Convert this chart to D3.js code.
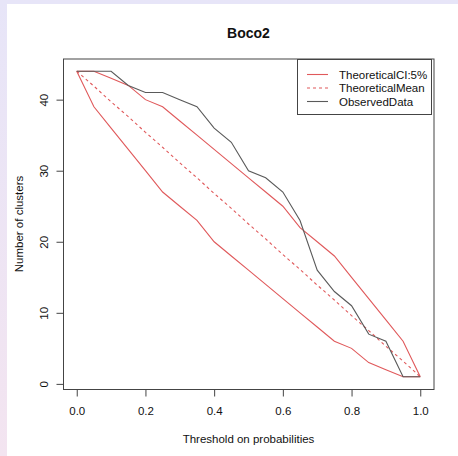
<!DOCTYPE html>
<html>
<head>
<meta charset="utf-8">
<script src="https://cdn.jsdelivr.net/npm/d3@7/dist/d3.min.js"></script>
<style>
  html, body { margin: 0; padding: 0; }
  body { width: 458px; height: 456px; overflow: hidden; background: linear-gradient(to bottom, #e7e5f8 0%, #f3e4f0 100%); }
  svg { display: block; }
  text { font-family: "Liberation Sans", Arial, Helvetica, sans-serif; fill: #111; }
</style>
</head>
<body>
<script>
const title = "Boco2";
const thresholds = [0, 0.05, 0.1, 0.15, 0.2, 0.25, 0.3, 0.35, 0.4, 0.45, 0.5, 0.55, 0.6, 0.65, 0.7, 0.75, 0.8, 0.85, 0.9, 0.95, 1.0];
const ciUpper = [44, 44, 43, 42, 40, 39, 37, 35, 33, 31, 29, 27, 25, 22, 20, 18, 15, 12, 9, 6, 1];
const ciLower = [44, 39, 36, 33, 30, 27, 25, 23, 20, 18, 16, 14, 12, 10, 8, 6, 5, 3, 2, 1, 1];
const theoMean = [44, 41.9, 39.7, 37.6, 35.4, 33.3, 31.1, 29, 26.8, 24.7, 22.5, 20.4, 18.2, 16.1, 13.9, 11.8, 9.6, 7.5, 5.3, 3.2, 1];
const observed = [44, 44, 44, 42, 41, 41, 40, 39, 36, 34, 30, 29, 27, 23, 16, 13, 11, 7, 6, 1, 1];
const xTicks = [0, 0.2, 0.4, 0.6, 0.8, 1.0];
const yTicks = [0, 10, 20, 30, 40];
const legendLabels = ["TheoreticalCI:5%", "TheoreticalMean", "ObservedData"];

const W = 458, H = 456;
const box = { left: 63, right: 434, top: 59, bottom: 389 };
const red = "#e0595b", gray = "#5a5a5a";

const svg = d3.select("body").append("svg").attr("width", W).attr("height", H);
svg.append("rect").attr("x", 7).attr("y", 4).attr("width", W - 7).attr("height", H - 4).attr("fill", "#fff");

// R-style 4% padding on data range
const xMin = d3.min(thresholds), xMax = d3.max(thresholds);
const allY = ciUpper.concat(ciLower, theoMean, observed);
const yMin = d3.min(allY), yMax = d3.max(allY);
const xs = d3.scaleLinear().domain([xMin - 0.04 * (xMax - xMin), xMax + 0.04 * (xMax - xMin)]).range([box.left, box.right]);
const ys = d3.scaleLinear().domain([yMin - 0.04 * (yMax - yMin), yMax + 0.04 * (yMax - yMin)]).range([box.bottom, box.top]);

const line = d3.line().x((d, i) => xs(thresholds[i])).y(d => ys(d));

const g = svg.append("g");
g.append("path").datum(ciUpper).attr("d", line).attr("fill", "none").attr("stroke", red).attr("stroke-width", 1.1);
g.append("path").datum(ciLower).attr("d", line).attr("fill", "none").attr("stroke", red).attr("stroke-width", 1.1);
g.append("path").datum(theoMean).attr("d", line).attr("fill", "none").attr("stroke", red).attr("stroke-width", 1.1).attr("stroke-dasharray", "3,3");
g.append("path").datum(observed).attr("d", line).attr("fill", "none").attr("stroke", gray).attr("stroke-width", 1.1);

// Box
svg.append("rect").attr("x", box.left + 0.5).attr("y", box.top).attr("width", box.right - box.left - 0.5).attr("height", box.bottom - box.top + 0.5)
  .attr("fill", "none").attr("stroke", "#444").attr("stroke-width", 1);

// Axes
const xAxis = d3.axisBottom(xs).tickValues(xTicks).tickFormat(d3.format(".1f")).tickSize(7).tickPadding(10);
const xg = svg.append("g").attr("transform", `translate(0,${box.bottom + 0.5})`).call(xAxis);
xg.select(".domain").remove();
xg.selectAll(".tick line").attr("stroke", "#444");
xg.selectAll(".tick text").attr("font-size", "11.5px").attr("fill", "#111").style("font-family", '"Liberation Sans", Arial, sans-serif');

const yAxis = d3.axisLeft(ys).tickValues(yTicks).tickSize(7).tickPadding(0);
const yg = svg.append("g").attr("transform", `translate(${box.left + 0.5},0)`).call(yAxis);
yg.select(".domain").remove();
yg.selectAll(".tick line").attr("stroke", "#444");
yg.selectAll(".tick text").attr("font-size", "11.5px").attr("fill", "#111")
  .style("font-family", '"Liberation Sans", Arial, sans-serif')
  .attr("text-anchor", "middle").attr("x", null).attr("dy", null)
  .attr("transform", "translate(-20,0) rotate(-90)").attr("dominant-baseline", "central");

// Titles
svg.append("text").attr("x", (box.left + box.right) / 2).attr("y", 38).attr("text-anchor", "middle")
  .attr("font-size", "14px").attr("font-weight", "bold").text(title);
svg.append("text").attr("x", (box.left + box.right) / 2).attr("y", 443).attr("text-anchor", "middle")
  .attr("font-size", "11.5px").text("Threshold on probabilities");
svg.append("text").attr("transform", `translate(19,${(box.top + box.bottom) / 2}) rotate(-90)`).attr("text-anchor", "middle")
  .attr("dominant-baseline", "central").attr("font-size", "11.5px").text("Number of clusters");

// Legend
const lg = svg.append("g");
lg.append("rect").attr("x", 297.5).attr("y", 59.5).attr("width", 134).attr("height", 55).attr("fill", "#fff").attr("stroke", "#444");
const styles = [{ c: red, dash: null }, { c: red, dash: "3,3" }, { c: gray, dash: null }];
legendLabels.forEach((lab, i) => {
  const y = 74.5 + i * 13.5;
  lg.append("line").attr("x1", 307).attr("x2", 328).attr("y1", y).attr("y2", y)
    .attr("stroke", styles[i].c).attr("stroke-width", 1.1).attr("stroke-dasharray", styles[i].dash);
  lg.append("text").attr("x", 339).attr("y", y).attr("dominant-baseline", "central").attr("font-size", "11.5px").text(lab);
});
</script>
</body>
</html>
